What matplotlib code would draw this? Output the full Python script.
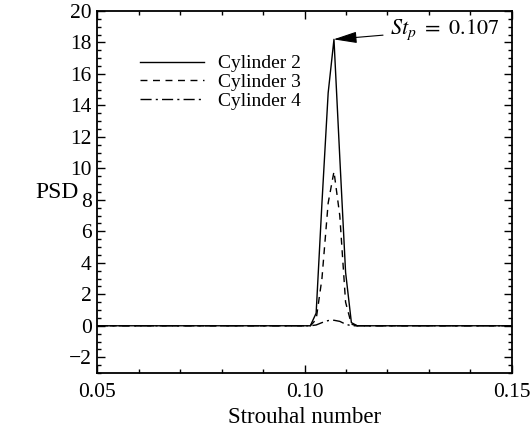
import numpy as np
import matplotlib
matplotlib.use("Agg")
import matplotlib.pyplot as plt
from matplotlib.ticker import MultipleLocator, FuncFormatter

plt.rcParams["font.family"] = ["Liberation Serif", "DejaVu Serif"]
plt.rcParams["mathtext.fontset"] = "stix"

# Strouhal number samples and PSD values
st = [0.05, 0.1000, 0.1014, 0.1028, 0.1042, 0.1057, 0.1071, 0.1085,
      0.1099, 0.1113, 0.1127, 0.15]
psd_cyl2 = [0.0, 0.0, 0.0, 0.8, 7.8, 14.8, 18.2, 10.7, 3.4, 0.2, 0.0, 0.0]
psd_cyl3 = [0.0, 0.0, 0.0, 0.4, 3.0, 7.8, 9.8, 7.0, 1.5, 0.1, 0.0, 0.0]
psd_cyl4 = [0.0, 0.0, 0.0, 0.05, 0.2, 0.33, 0.35, 0.28, 0.1, 0.0, 0.0, 0.0]
labels = ["Cylinder 2", "Cylinder 3", "Cylinder 4"]
peak_st, peak_psd = 0.107, 18.2

fig = plt.figure(figsize=(5.31, 4.34), dpi=100)
ax = fig.add_axes([0.183, 0.1406, 0.781, 0.834])

ax.plot(st, psd_cyl2, color="k", lw=1.0, ls="-", label=labels[0])
ax.plot(st, psd_cyl3, color="k", lw=1.0, ls=(0, (5, 4)), label=labels[1])
ax.plot(st, psd_cyl4, color="k", lw=1.0, ls=(0, (8, 3, 1.5, 3)), label=labels[2])

ax.annotate(r"$St_p\ =\ 0.107$", xy=(peak_st, peak_psd), xytext=(0.1206, 18.8),
            fontsize=16, ha="left", va="center",
            arrowprops=dict(arrowstyle="-|>,head_length=0.9,head_width=0.22",
                            color="k", lw=0.8, shrinkA=3, shrinkB=0))

ax.set_xlim(0.05, 0.15)
ax.set_ylim(-3, 20)
ax.xaxis.set_major_locator(MultipleLocator(0.05))
ax.xaxis.set_minor_locator(MultipleLocator(0.01))
ax.xaxis.set_major_formatter(FuncFormatter(lambda v, p: f"{v:.2f}"))
ax.yaxis.set_major_locator(MultipleLocator(2))
ax.yaxis.set_minor_locator(MultipleLocator(0.5))
ax.yaxis.set_major_formatter(FuncFormatter(lambda v, p: f"{v:g}".replace("-", "\u2212")))
ax.tick_params(which="both", direction="in", top=True, right=True,
               labelsize=15.5, width=1.0)
ax.tick_params(which="major", length=6)
ax.tick_params(axis="x", which="major", pad=7)
ax.tick_params(axis="y", which="major", pad=4)
ax.tick_params(which="minor", length=3)
for s in ax.spines.values():
    s.set_linewidth(1.3)

ax.set_xlabel("Strouhal number", fontsize=16.5, labelpad=4)
ax.set_ylabel("PSD", fontsize=17, rotation=0, ha="center", va="center")
ax.yaxis.set_label_coords(-0.096, 0.5)

ax.legend(loc="upper left", bbox_to_anchor=(0.104, 0.879), frameon=False,
          fontsize=14, handlelength=3.3, handletextpad=0.7,
          labelspacing=0.05, borderpad=0, borderaxespad=0)

fig.savefig("out.png", dpi=100)
